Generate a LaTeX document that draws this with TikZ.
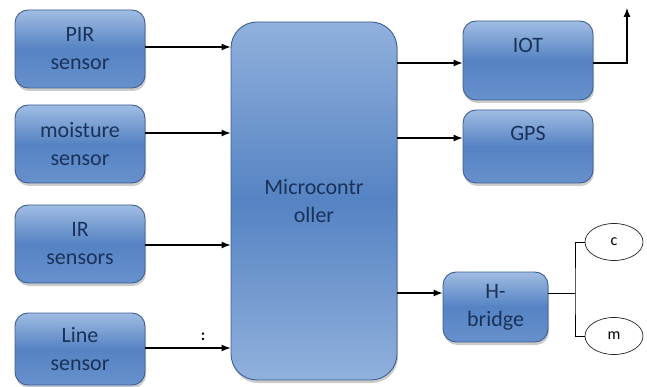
\documentclass[tikz,border=0pt]{standalone}
\usepackage{fontspec}
\setmainfont{Carlito}
\usetikzlibrary{arrows.meta,shapes.geometric,shadows}
\definecolor{boxtop}{HTML}{A0BCE3}
\definecolor{boxmid}{HTML}{5583C3}
\definecolor{boxbot}{HTML}{6791CC}
\definecolor{boxedge}{HTML}{3B5E93}
\definecolor{boxtext}{HTML}{1A3259}
\tikzset{
  block/.style={draw=boxedge, line width=0.9pt, rounded corners=13pt,
    top color=boxtop, bottom color=boxbot, middle color=boxmid,
    drop shadow={opacity=0.4, shadow xshift=1pt, shadow yshift=-3pt},
    text=boxtext, font=\fontsize{22}{28}\selectfont, align=center,
    minimum width=130pt, inner sep=2pt},
  mcublock/.style={block, rounded corners=26pt,
    top color=boxtop!80!boxmid, bottom color=boxtop!80!boxmid, middle color=boxmid},
  lbl/.style={text=boxtext, font=\fontsize{22}{28}\selectfont, inner sep=0pt},
  motor/.style={draw=black!85, line width=0.7pt, ellipse, minimum width=58pt,
    minimum height=37pt, inner sep=0pt, font=\fontsize{16}{18}\selectfont},
  arr/.style={line width=1.1pt, -{Latex[length=9pt,width=7pt]}},
  wire/.style={line width=1pt}
}
\begin{document}
\begin{tikzpicture}[x=1pt,y=-1pt]
\useasboundingbox (0,0) rectangle (647,387);

% sensor blocks on the left
\node[block, minimum height=78pt] (pir) at (80,49) {PIR\\sensor};
\node[block, minimum height=78pt] (moist) at (80,144) {moisture\\sensor};
\node[block, minimum height=78pt] (ir) at (80,244) {IR\\sensors};
\node[block, minimum height=72pt] (line) at (80,349) {Line\\sensor};

% central controller
\node[mcublock, minimum width=166pt, minimum height=358pt] (mcu) at (314,201) {Microcontr\\oller};

% output blocks on the right (labels sit near the top edge)
\node[block, minimum height=79pt] (iot) at (528,60.5) {};
\node[lbl] at (iot.center |- 0,45) {IOT};
\node[block, minimum height=73pt] (gps) at (528,146.5) {};
\node[lbl] at (gps.center |- 0,133) {GPS};
\node[block, minimum width=105pt, minimum height=70pt] (hb) at (495.5,307) {H-\\bridge};

% motors
\node[motor] (c) at (614,242) {c};
\node[motor] (m) at (614,336) {m};

% inputs to the controller
\draw[arr] (pir.east |- 0,47) -- (mcu.west |- 0,47);
\draw[arr] (moist.east |- 0,133) -- (mcu.west |- 0,133);
\draw[arr] (ir.east |- 0,245) -- (mcu.west |- 0,245);
\draw[arr] (line.east |- 0,348) -- (mcu.west |- 0,348);
\node[font=\fontsize{16}{18}\selectfont\bfseries] (dots) at (203,337) {:};

% outputs of the controller
\draw[arr] (mcu.east |- 0,63) -- (iot.west |- 0,63);
\draw[arr] (mcu.east |- 0,138) -- (gps.west |- 0,138);
\draw[arr] (mcu.east |- 0,293) -- (hb.west |- 0,293);

% IOT uplink
\coordinate (ant) at (627,8);
\draw[arr] (iot.east |- 0,63) -| (ant);

% H-bridge to motors
\coordinate (br) at (575,293);
\draw[wire] (hb.east |- br) -- (br);
\draw[wire] (c.west) -| (br) |- (m.west);
\end{tikzpicture}
\end{document}
